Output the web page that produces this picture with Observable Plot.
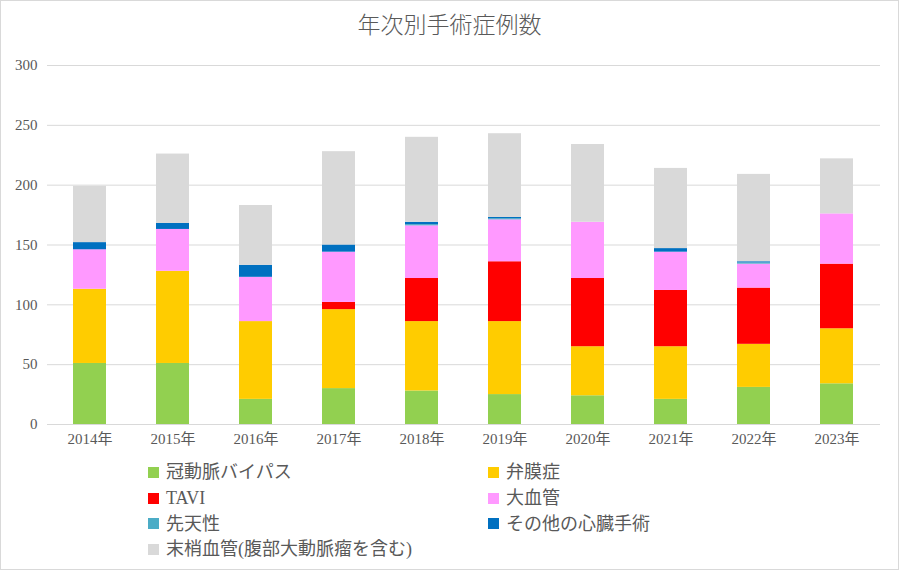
<!DOCTYPE html>
<html><head><meta charset="utf-8">
<script src="https://cdn.jsdelivr.net/npm/d3@7"></script>
<script src="https://cdn.jsdelivr.net/npm/@observablehq/plot@0.6"></script>
<style>
body{margin:0;background:#fff;}
#chart{position:relative;width:899px;height:570px;background:#fff;font-family:"Liberation Serif","Noto Sans CJK JP",serif;color:#595959;overflow:hidden;}
#frame{position:absolute;left:0;top:0;width:899px;height:570px;box-sizing:border-box;border:1px solid #d9d9d9;}
#title{position:absolute;left:0;width:899px;top:12px;text-align:center;font-size:23px;line-height:28px;font-weight:300;}
#plot{position:absolute;left:0;top:44px;}
.lg{position:absolute;display:flex;align-items:center;font-size:18px;line-height:20px;white-space:nowrap;font-family:"Liberation Serif","Noto Sans CJK JP",serif;}
.lg .sw{width:11px;height:11px;margin-right:7px;}
</style></head>
<body>
<div id="chart">
  <div id="frame"></div>
  <div id="title">年次別手術症例数</div>
  <div id="plot"></div>
</div>
<script>
const titleText = "年次別手術症例数";
const years = ["2014年","2015年","2016年","2017年","2018年","2019年","2020年","2021年","2022年","2023年"];
const seriesNames = ["冠動脈バイパス","弁膜症","TAVI","大血管","先天性","その他の心臓手術","末梢血管(腹部大動脈瘤を含む)"];
const seriesColors = ["#92d050","#ffcc00","#ff0000","#ff99ff","#4bacc6","#0070c0","#d9d9d9"];
const cabg         = [51,51,21,30,28,25,24,21,31,34];
const valve        = [62,77,65,66,58,61,41,44,36,46];
const tavi         = [0,0,0,6,36,50,57,47,47,54];
const aorta        = [33,35,37,42,44,35,47,32,20,42];
const congenital   = [0,0,0,0,1,1,0,0,1,0];
const otherCardiac = [6,5,10,6,2,1,0,3,1,0];
const peripheral   = [47,58,50,78,71,70,65,67,73,46];
const yTicks = [0,50,100,150,200,250,300];

const seriesValues = [cabg, valve, tavi, aorta, congenital, otherCardiac, peripheral];
const data = [];
years.forEach((yr, i) => {
  seriesValues.forEach((vals, j) => {
    data.push({year: yr, series: seriesNames[j], value: vals[i]});
  });
});

const chart = Plot.plot({
  width: 899,
  height: 410,
  marginTop: 21,
  marginBottom: 30,
  marginLeft: 47,
  marginRight: 19,
  style: {fontFamily: '"Liberation Serif","Noto Sans CJK JP",serif', fontSize: "15px", color: "#595959", background: "transparent", overflow: "visible"},
  x: {domain: years, paddingInner: 0.6, paddingOuter: 0.3, label: null, tickSize: 0, tickPadding: 9},
  y: {domain: [0, 300], ticks: yTicks, label: null, tickSize: 0, tickPadding: 10},
  color: {domain: seriesNames, range: seriesColors},
  marks: [
    Plot.gridY(yTicks, {stroke: "#d9d9d9", strokeOpacity: 1, strokeWidth: 1}),
    Plot.barY(data, {x: "year", y: "value", fill: "series", z: "series"}),
    Plot.ruleY([0], {stroke: "#d9d9d9", strokeWidth: 1})
  ]
});
document.getElementById("plot").appendChild(chart);

// legend
const chartDiv = document.getElementById("chart");
const colX = [148, 488];
const rowY = [472, 498, 523.5, 549];
seriesNames.forEach((name, i) => {
  const el = document.createElement("div");
  el.className = "lg";
  el.style.left = colX[i % 2] + "px";
  el.style.top = (rowY[Math.floor(i / 2)] - 10) + "px";
  const sw = document.createElement("span");
  sw.className = "sw";
  sw.style.background = seriesColors[i];
  const tx = document.createElement("span");
  tx.textContent = name;
  el.appendChild(sw);
  el.appendChild(tx);
  chartDiv.appendChild(el);
});
</script>
</body></html>
